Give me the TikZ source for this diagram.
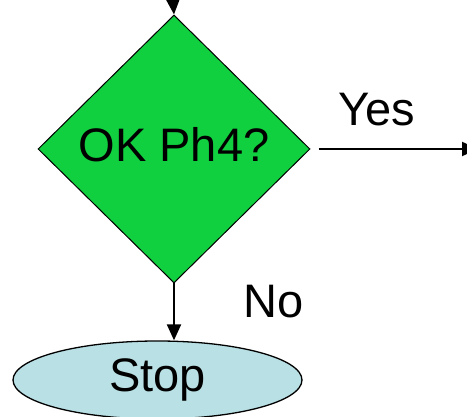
\documentclass[tikz,border=0pt]{standalone}
\usepackage{fontspec}
\setmainfont{Liberation Sans}
\usetikzlibrary{shapes.geometric,arrows.meta}
\definecolor{okgreen}{RGB}{17,208,63}
\definecolor{stopblue}{RGB}{185,224,228}

\begin{document}
\begin{tikzpicture}[x=1pt,y=-1pt,
    every node/.style={font=\fontsize{47}{56}\selectfont},
    flow/.style={line width=2pt,-{Triangle[width=14pt,length=16pt]}},
    decision/.style={diamond,draw,line width=1pt,fill=okgreen,text depth=9pt,
      minimum width=272pt,minimum height=268pt,inner sep=0pt},
    terminal/.style={ellipse,draw,line width=1.3pt,fill=stopblue,
      minimum width=289pt,minimum height=78pt,inner sep=0pt}]
    \useasboundingbox (0,0) rectangle (467,417);
    \node[decision] (ok) at (174,149) {OK Ph4?};
    \node[terminal] (stop) at (157.5,380) {Stop};
    \coordinate (in) at (173,0);
    \coordinate (out) at (478,149);
    \draw[flow] (in) -- (ok.north);
    \draw[flow,shorten <=8pt] (ok.east) -- (out);
    \draw[flow] (ok.south) -- (ok.south |- stop.north);
    \node[anchor=base west,inner sep=0pt] (yes) at (338,126) {Yes};
    \node[anchor=base west,inner sep=0pt] (no) at (243,318) {No};
  \end{tikzpicture}
\end{document}
